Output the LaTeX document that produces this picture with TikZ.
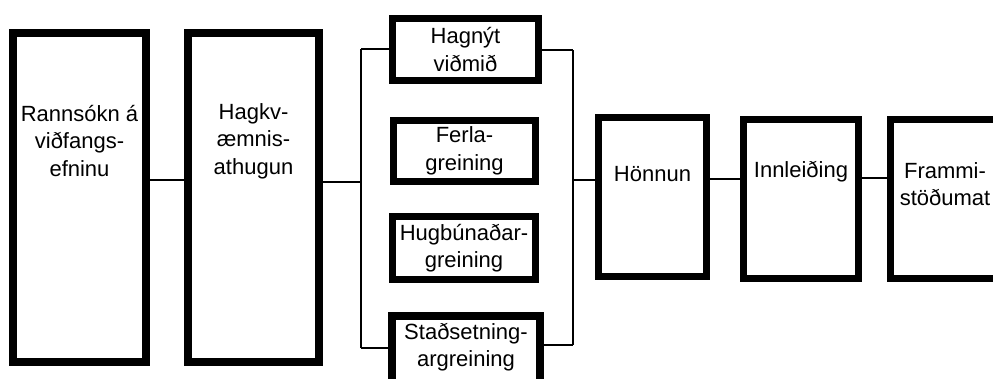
\documentclass[tikz,border=0pt]{standalone}
\usepackage{fontspec}
\setmainfont{Liberation Sans}
\begin{document}
\begin{tikzpicture}[x=1pt,y=-1pt,
  box/.style={draw=black,line width=7.5pt,fill=white,rectangle,inner sep=0pt,
    align=center,font=\fontsize{22}{27.5}\selectfont},
  txt/.style={align=center,inner sep=0pt,font=\fontsize{22}{27.5}\selectfont},
  conn/.style={draw=black,line width=1.3pt}]
\clip (0,0) rectangle (993,378);
\fill[white] (0,0) rectangle (993,378);
% tall boxes
\node[box,minimum width=133pt,minimum height=329pt] (b1) at (79.5,197.5) {};
\node[box,minimum width=131pt,minimum height=329pt] (b2) at (253.5,197.5) {};
\node[txt] (t1) at (79.5,141) {Rannsókn á\\viðfangs-\\efninu};
\node[txt] (t2) at (253.5,141) {Hagkv-\\æmnis-\\athugun};
% middle boxes
\node[box,minimum width=146pt,minimum height=62pt] (hag) at (465.5,49.5) {Hagnýt\\viðmið};
\node[box,minimum width=142pt,minimum height=61pt] (fer) at (464.5,151) {Ferla-\\greining};
\node[box,minimum width=143pt,minimum height=63pt] (hug) at (464,248) {Hugbúnaðar-\\greining};
\node[box,minimum width=148pt,minimum height=75pt,anchor=north] (sta) at (466,312) {};
\node[txt] (tsta) at (466,347) {Staðsetning-\\argreining};
% right boxes
\node[box,minimum width=108pt,minimum height=159pt] (hon) at (652.5,197) {};
\node[txt] (thon) at (652.5,174) {Hönnun};
\node[box,minimum width=115pt,minimum height=159pt] (inn) at (801,199) {};
\node[txt] (tinn) at (801,172) {Innleiðing};
\node[box,minimum width=113pt,minimum height=159pt,anchor=west] (fra) at (886.75,199) {};
\node[txt] (tfra) at (945,184) {Frammi-\\stöðumat};
% junction coordinates
\coordinate (L1) at (361,49);
\coordinate (L2) at (361,182);
\coordinate (L3) at (361,348);
\coordinate (R1) at (573,50);
\coordinate (R2) at (573,180);
\coordinate (R3) at (573,345);
% connectors
\draw[conn] (b1.east |- 0,180) -- (b2.west |- 0,180);
\draw[conn] (b2.east |- L2) -- (L2);
\draw[conn] (L1) -- (L3);
\draw[conn] (L1) -- (hag.west |- L1);
\draw[conn] (L3) -- ([xshift=8pt]sta.west |- L3);
\draw[conn] (hag.east |- R1) -- (R1);
\draw[conn] (R1) -- (R3);
\draw[conn] (sta.east |- R3) -- (R3);
\draw[conn] (R2) -- (hon.west |- R2);
\draw[conn] (hon.east |- 0,179) -- (inn.west |- 0,179);
\draw[conn] (inn.east |- 0,178) -- (fra.west |- 0,178);
\end{tikzpicture}
\end{document}
